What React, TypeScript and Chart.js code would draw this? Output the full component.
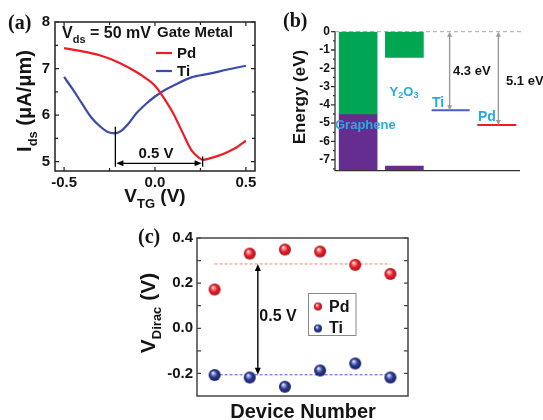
import React, { useEffect, useRef } from 'react';
import { Chart, registerables } from 'chart.js';

Chart.register(...registerables);

const W = 543;
const H = 420;
const SANS = 'Arial, "Liberation Sans", Helvetica, sans-serif';
const SERIF = '"Times New Roman", "Liberation Serif", Times, serif';
const INK = '#141414';

// ---------- Panel (a): Ids vs VTG ----------
const vtgPd = [-0.5, -0.4, -0.3, -0.2, -0.1, -0.05, 0, 0.05, 0.1, 0.15, 0.2, 0.24, 0.262, 0.3, 0.35, 0.4, 0.45, 0.5];
const idsPd = [7.44, 7.37, 7.28, 7.13, 6.92, 6.79, 6.63, 6.36, 6.04, 5.64, 5.25, 5.09, 5.04, 5.07, 5.13, 5.21, 5.31, 5.45];
const vtgTi = [-0.5, -0.45, -0.4, -0.35, -0.3, -0.26, -0.218, -0.19, -0.15, -0.1, -0.05, 0, 0.05, 0.1, 0.2, 0.3, 0.4, 0.5];
const idsTi = [6.82, 6.54, 6.24, 5.95, 5.75, 5.64, 5.61, 5.65, 5.8, 6.05, 6.24, 6.4, 6.53, 6.63, 6.81, 6.89, 6.98, 7.06];
const aXTicks = [-0.5, 0, 0.5];
const aXMinor = [-0.25, 0.25];
const aYTicks = [5, 6, 7, 8];
const aYMinor = [5.5, 6.5, 7.5];
const aDirac = [-0.218, 0.262]; // Ti, Pd Dirac points
const aDiracTop = [5.75, 5.11];
const aGuideBottom = 4.89;
const aArrowY = 4.965;

// ---------- Panel (b): band diagram ----------
const bLabels = ['Graphene', 'Y2O3', 'Ti', 'Pd'];
const bConduction: (number[] | null)[] = [[-4.5, 0], [-1.4, 0], null, null];
const bValence: (number[] | null)[] = [[-7.6, -4.5], [-7.6, -7.35], null, null];
const bLevels: (number | null)[] = [null, null, -4.3, -5.1];
const bYTicks = [0, -1, -2, -3, -4, -5, -6, -7];
const bYMinor = [-0.5, -1.5, -2.5, -3.5, -4.5, -5.5, -6.5, -7.5];

// ---------- Panel (c): Dirac voltage per device ----------
const devices = [1, 2, 3, 4, 5, 6];
const vDiracPd = [0.172, 0.331, 0.349, 0.34, 0.281, 0.241];
const vDiracTi = [-0.207, -0.218, -0.259, -0.187, -0.156, -0.218];
const avgPd = 0.285;
const avgTi = -0.206;
const cYTicks = [-0.2, 0, 0.2, 0.4];
const cYMinor = [-0.1, 0.1, 0.3];
const cArrowX = 2.23;

// colours
const RED = '#ee1c25';
const BLUE = '#3b4ba8';
const GREEN = '#00a651';
const PURPLE = '#662d91';
const CYAN = '#27aae1';

type Run = { t: string; px: number; dy?: number };
function richText(
  ctx: CanvasRenderingContext2D,
  runs: Run[],
  x: number,
  y: number,
  o: { rotate?: boolean; align?: 'left' | 'center'; color?: string; family?: string } = {}
) {
  ctx.save();
  ctx.translate(x, y);
  if (o.rotate) ctx.rotate(-Math.PI / 2);
  ctx.textAlign = 'left';
  ctx.textBaseline = 'alphabetic';
  ctx.fillStyle = o.color || INK;
  const fam = o.family || SANS;
  const widths = runs.map((r) => {
    ctx.font = `bold ${r.px}px ${fam}`;
    return ctx.measureText(r.t).width;
  });
  const total = widths.reduce((a, b) => a + b, 0);
  let cx = o.align === 'left' ? 0 : -total / 2;
  runs.forEach((r, i) => {
    ctx.font = `bold ${r.px}px ${fam}`;
    ctx.fillText(r.t, cx, r.dy || 0);
    cx += widths[i];
  });
  ctx.restore();
}

function doubleArrow(
  ctx: CanvasRenderingContext2D,
  x1: number, y1: number, x2: number, y2: number,
  color: string, lw: number, hl: number, hw: number
) {
  const ang = Math.atan2(y2 - y1, x2 - x1);
  const ux = Math.cos(ang);
  const uy = Math.sin(ang);
  ctx.save();
  ctx.strokeStyle = color;
  ctx.fillStyle = color;
  ctx.lineWidth = lw;
  ctx.beginPath();
  ctx.moveTo(x1 + ux * hl * 0.7, y1 + uy * hl * 0.7);
  ctx.lineTo(x2 - ux * hl * 0.7, y2 - uy * hl * 0.7);
  ctx.stroke();
  const head = (px: number, py: number, dx: number, dy: number) => {
    ctx.beginPath();
    ctx.moveTo(px, py);
    ctx.lineTo(px - dx * hl - dy * hw, py - dy * hl + dx * hw);
    ctx.lineTo(px - dx * hl + dy * hw, py - dy * hl - dx * hw);
    ctx.closePath();
    ctx.fill();
  };
  head(x2, y2, ux, uy);
  head(x1, y1, -ux, -uy);
  ctx.restore();
}

function sphere(r: number, hi: string, base: string, dark: string) {
  const c = document.createElement('canvas');
  const s = Math.ceil(2 * r + 2);
  c.width = s;
  c.height = s;
  const g = c.getContext('2d')!;
  const cx = s / 2;
  const cy = s / 2;
  const grad = g.createRadialGradient(cx - r * 0.3, cy - r * 0.38, r * 0.05, cx, cy, r);
  grad.addColorStop(0, '#ffffff');
  grad.addColorStop(0.18, hi);
  grad.addColorStop(0.55, base);
  grad.addColorStop(1, dark);
  g.fillStyle = grad;
  g.beginPath();
  g.arc(cx, cy, r, 0, Math.PI * 2);
  g.fill();
  return c;
}

type Area = { left: number; top: number; right: number; bottom: number };
const pad = (a: Area, yW: number, xH: number) => ({
  left: a.left - yW,
  top: a.top,
  right: W - a.right,
  bottom: H - a.bottom - xH,
});

const tickFont = (size: number) => ({ family: SANS, weight: 'bold' as const, size });

// ---------------- Chart (a) ----------------
function makeA(canvas: HTMLCanvasElement) {
  const area: Area = { left: 55, top: 22, right: 255, bottom: 171 };
  const plugin = {
    id: 'panelA',
    afterDraw(chart: any) {
      const { ctx, chartArea: a, scales } = chart;
      const x = scales.x;
      const y = scales.y;
      ctx.save();
      ctx.strokeStyle = '#222';
      ctx.lineWidth = 1.5;
      ctx.strokeRect(a.left, a.top, a.right - a.left, a.bottom - a.top);
      ctx.lineWidth = 1.2;
      ctx.beginPath();
      const yt = (v: number, len: number) => {
        const py = y.getPixelForValue(v);
        ctx.moveTo(a.left, py); ctx.lineTo(a.left + len, py);
        ctx.moveTo(a.right, py); ctx.lineTo(a.right - len, py);
      };
      const xt = (v: number, len: number) => {
        const px = x.getPixelForValue(v);
        ctx.moveTo(px, a.bottom); ctx.lineTo(px, a.bottom - len);
        ctx.moveTo(px, a.top); ctx.lineTo(px, a.top + len);
      };
      aYTicks.forEach((v) => yt(v, 4));
      aYMinor.forEach((v) => yt(v, 3));
      aXTicks.forEach((v) => xt(v, 4));
      aXMinor.forEach((v) => xt(v, 3));
      ctx.stroke();

      // Dirac guides and arrow
      ctx.strokeStyle = '#000';
      ctx.lineWidth = 1.3;
      ctx.beginPath();
      aDirac.forEach((v, i) => {
        const px = x.getPixelForValue(v);
        ctx.moveTo(px, y.getPixelForValue(aDiracTop[i]));
        ctx.lineTo(px, y.getPixelForValue(aGuideBottom));
      });
      ctx.stroke();
      const ay = y.getPixelForValue(aArrowY);
      doubleArrow(ctx, x.getPixelForValue(aDirac[0]) + 1, ay, x.getPixelForValue(aDirac[1]) - 1, ay, '#000', 1.3, 7, 3);
      ctx.restore();

      richText(ctx, [{ t: '0.5 V', px: 15 }], 156, 158);
      richText(ctx, [{ t: '(a)', px: 20 }], 8, 29, { align: 'left', family: SERIF });
      richText(ctx, [{ t: 'V', px: 16 }, { t: 'ds', px: 11, dy: 5 }, { t: ' = 50 mV', px: 16 }], 62, 38, { align: 'left' });
      richText(ctx, [{ t: 'Gate Metal', px: 15 }], 157, 37, { align: 'left' });
      ctx.save();
      ctx.lineWidth = 2.2;
      ctx.strokeStyle = RED;
      ctx.beginPath(); ctx.moveTo(156, 53); ctx.lineTo(172, 53); ctx.stroke();
      ctx.strokeStyle = BLUE;
      ctx.beginPath(); ctx.moveTo(156, 71); ctx.lineTo(172, 71); ctx.stroke();
      ctx.restore();
      richText(ctx, [{ t: 'Pd', px: 15 }], 177, 58, { align: 'left' });
      richText(ctx, [{ t: 'Ti', px: 15 }], 177, 76, { align: 'left' });
      richText(ctx, [{ t: 'I', px: 20 }, { t: 'ds', px: 13, dy: 6 }, { t: ' (\u03bcA/\u03bcm)', px: 20 }], 31, 101, { rotate: true });
      richText(ctx, [{ t: 'V', px: 19 }, { t: 'TG', px: 13, dy: 6 }, { t: ' (V)', px: 19 }], 155, 202);
    },
  };
  return new Chart(canvas, {
    type: 'line',
    data: {
      datasets: [
        {
          label: 'Pd',
          data: vtgPd.map((v, i) => ({ x: v, y: idsPd[i] })),
          borderColor: RED,
          borderWidth: 2.2,
          pointRadius: 0,
          cubicInterpolationMode: 'monotone',
        },
        {
          label: 'Ti',
          data: vtgTi.map((v, i) => ({ x: v, y: idsTi[i] })),
          borderColor: BLUE,
          borderWidth: 2.2,
          pointRadius: 0,
          cubicInterpolationMode: 'monotone',
        },
      ],
    },
    options: {
      animation: false,
      responsive: false,
      devicePixelRatio: 1,
      events: [],
      layout: { padding: pad(area, 40, 25) },
      plugins: { legend: { display: false }, tooltip: { enabled: false } },
      scales: {
        x: {
          type: 'linear',
          min: -0.55,
          max: 0.55,
          grid: { display: false, drawTicks: false },
          border: { display: false },
          afterBuildTicks: (s: any) => { s.ticks = aXTicks.map((value) => ({ value })); },
          afterFit: (s: any) => { s.height = 25; },
          ticks: { font: tickFont(15), color: INK, padding: 3, autoSkip: false, maxRotation: 0, callback: (v: any) => Number(v).toFixed(1) },
        },
        y: {
          type: 'linear',
          min: 4.8,
          max: 8,
          grid: { display: false, drawTicks: false },
          border: { display: false },
          afterBuildTicks: (s: any) => { s.ticks = aYTicks.map((value) => ({ value })); },
          afterFit: (s: any) => { s.width = 40; },
          ticks: { font: tickFont(15), color: INK, padding: 5, autoSkip: false, callback: (v: any) => String(v) },
        },
      },
    },
    plugins: [plugin],
  } as any);
}

// ---------------- Chart (b) ----------------
function makeB(canvas: HTMLCanvasElement) {
  const area: Area = { left: 335, top: 31.7, right: 520, bottom: 170.7 };
  const plugin = {
    id: 'panelB',
    beforeDatasetsDraw(chart: any) {
      const { ctx, chartArea: a, scales } = chart;
      const py = scales.y.getPixelForValue(0);
      ctx.save();
      ctx.strokeStyle = '#a8a8a8';
      ctx.lineWidth = 1;
      ctx.setLineDash([4, 3]);
      ctx.beginPath(); ctx.moveTo(a.left, py); ctx.lineTo(a.right + 2, py); ctx.stroke();
      ctx.restore();
    },
    afterDraw(chart: any) {
      const { ctx, chartArea: a, scales } = chart;
      const x = scales.x;
      const y = scales.y;
      ctx.save();
      ctx.strokeStyle = '#333';
      ctx.lineWidth = 1.3;
      ctx.beginPath();
      ctx.moveTo(a.left, a.top); ctx.lineTo(a.left, a.bottom); ctx.lineTo(a.right, a.bottom);
      bYTicks.forEach((v) => { const p = y.getPixelForValue(v); ctx.moveTo(a.left, p); ctx.lineTo(a.left - 4, p); });
      bYMinor.forEach((v) => { const p = y.getPixelForValue(v); ctx.moveTo(a.left, p); ctx.lineTo(a.left - 2, p); });
      ctx.stroke();
      ctx.restore();

      [2, 3].forEach((i) => {
        const px = x.getPixelForValue(i) + (i === 2 ? -1 : 1.5);
        doubleArrow(ctx, px, y.getPixelForValue(0), px, y.getPixelForValue(bLevels[i] as number), '#9a9a9a', 1.4, 5, 2.5);
      });

      richText(ctx, [{ t: '(b)', px: 20 }], 283, 27, { align: 'left', family: SERIF });
      richText(ctx, [{ t: 'Energy (eV)', px: 17 }], 305, 97, { rotate: true });
      richText(ctx, [{ t: `${-(bLevels[2] as number)} eV`, px: 13 }], 453, 75, { align: 'left' });
      richText(ctx, [{ t: `${-(bLevels[3] as number)} eV`, px: 13 }], 506, 85, { align: 'left' });
      richText(ctx, [{ t: 'Graphene', px: 13 }], 335, 129, { align: 'left', color: CYAN });
      richText(ctx, [{ t: 'Y', px: 13 }, { t: '2', px: 9, dy: 2 }, { t: 'O', px: 13 }, { t: '3', px: 9, dy: 2 }], 404, 96, { color: CYAN });
      richText(ctx, [{ t: bLabels[2], px: 14 }], 432, 107, { align: 'left', color: CYAN });
      richText(ctx, [{ t: bLabels[3], px: 14 }], 478, 121, { align: 'left', color: CYAN });
    },
  };
  return new Chart(canvas, {
    type: 'bar',
    data: {
      labels: bLabels,
      datasets: [
        { type: 'bar', label: 'Conduction', data: bConduction, backgroundColor: GREEN, barThickness: 38, grouped: false, borderWidth: 0 },
        { type: 'bar', label: 'Valence', data: bValence, backgroundColor: PURPLE, barThickness: 38, grouped: false, borderWidth: 0 },
        {
          type: 'line', label: 'Ti', data: bLevels.map((v, i) => (i === 2 ? v : null)), showLine: false,
          pointStyle: 'line', pointRadius: 19, pointBorderWidth: 2, pointBorderColor: '#4b5cc4', borderColor: '#4b5cc4',
        },
        {
          type: 'line', label: 'Pd', data: bLevels.map((v, i) => (i === 3 ? v : null)), showLine: false,
          pointStyle: 'line', pointRadius: 19.5, pointBorderWidth: 2, pointBorderColor: RED, borderColor: RED,
        },
      ],
    },
    options: {
      animation: false,
      responsive: false,
      devicePixelRatio: 1,
      events: [],
      layout: { padding: pad(area, 30, 0) },
      plugins: { legend: { display: false }, tooltip: { enabled: false } },
      scales: {
        x: { display: false, offset: true },
        y: {
          type: 'linear',
          min: -7.6,
          max: 0,
          grid: { display: false, drawTicks: false },
          border: { display: false },
          afterBuildTicks: (s: any) => { s.ticks = bYTicks.map((value) => ({ value })); },
          afterFit: (s: any) => { s.width = 30; },
          ticks: { font: tickFont(12), color: INK, padding: 5, autoSkip: false, callback: (v: any) => String(v) },
        },
      },
    },
    plugins: [plugin],
  } as any);
}

// ---------------- Chart (c) ----------------
function makeC(canvas: HTMLCanvasElement) {
  const area: Area = { left: 197, top: 238, right: 408, bottom: 396 };
  const redBall = sphere(6, '#ff9a9a', '#e8202a', '#a5121a');
  const blueBall = sphere(6, '#9aa6e6', '#2b3990', '#18205e');
  const redSmall = sphere(4, '#ff9a9a', '#e8202a', '#a5121a');
  const blueSmall = sphere(4, '#9aa6e6', '#2b3990', '#18205e');
  const plugin = {
    id: 'panelC',
    afterDraw(chart: any) {
      const { ctx, chartArea: a, scales } = chart;
      const x = scales.x;
      const y = scales.y;
      ctx.save();
      ctx.strokeStyle = '#444';
      ctx.lineWidth = 1.5;
      ctx.strokeRect(a.left, a.top, a.right - a.left, a.bottom - a.top);
      ctx.lineWidth = 1.2;
      ctx.beginPath();
      [...cYTicks, ...cYMinor].forEach((v) => {
        const p = y.getPixelForValue(v);
        ctx.moveTo(a.left, p); ctx.lineTo(a.left + 4, p);
        ctx.moveTo(a.right, p); ctx.lineTo(a.right - 4, p);
      });
      ctx.stroke();
      // legend box
      ctx.strokeStyle = '#888';
      ctx.lineWidth = 1;
      ctx.strokeRect(308.5, 293.5, 47.5, 42);
      ctx.drawImage(redSmall, 318 - redSmall.width / 2, 306.5 - redSmall.height / 2);
      ctx.drawImage(blueSmall, 318 - blueSmall.width / 2, 328.5 - blueSmall.height / 2);
      ctx.restore();

      const ax = x.getPixelForValue(cArrowX);
      doubleArrow(ctx, ax, y.getPixelForValue(avgPd), ax, y.getPixelForValue(avgTi), '#000', 1.4, 7, 3);

      richText(ctx, [{ t: 'Pd', px: 16 }], 329, 312, { align: 'left' });
      richText(ctx, [{ t: 'Ti', px: 16 }], 329, 333, { align: 'left' });
      richText(ctx, [{ t: '0.5 V', px: 16 }], 278, 321);
      richText(ctx, [{ t: '(c)', px: 20 }], 138, 243, { align: 'left', family: SERIF });
      richText(ctx, [{ t: 'V', px: 21 }, { t: 'Dirac', px: 13, dy: 6 }, { t: ' (V)', px: 21 }], 155, 313, { rotate: true });
      richText(ctx, [{ t: 'Device Number', px: 20 }], 303, 418);
    },
  };
  return new Chart(canvas, {
    type: 'scatter',
    data: {
      datasets: [
        { label: 'Pd', data: devices.map((d, i) => ({ x: d, y: vDiracPd[i] })), pointStyle: redBall, pointRadius: 6 },
        { label: 'Ti', data: devices.map((d, i) => ({ x: d, y: vDiracTi[i] })), pointStyle: blueBall, pointRadius: 6 },
        {
          type: 'line', label: 'Pd mean', data: [{ x: devices[0], y: avgPd }, { x: devices[devices.length - 1], y: avgPd }],
          borderColor: '#f4826e', borderWidth: 1, borderDash: [3, 2], pointRadius: 0, showLine: true,
        },
        {
          type: 'line', label: 'Ti mean', data: [{ x: devices[0], y: avgTi }, { x: devices[devices.length - 1], y: avgTi }],
          borderColor: '#4a5ad0', borderWidth: 1, borderDash: [3, 2], pointRadius: 0, showLine: true,
        },
      ],
    },
    options: {
      animation: false,
      responsive: false,
      devicePixelRatio: 1,
      events: [],
      layout: { padding: pad(area, 30, 0) },
      plugins: { legend: { display: false }, tooltip: { enabled: false } },
      scales: {
        x: { type: 'linear', display: false, min: 0.5, max: 6.5 },
        y: {
          type: 'linear',
          min: -0.3,
          max: 0.4,
          grid: { display: false, drawTicks: false },
          border: { display: false },
          afterBuildTicks: (s: any) => { s.ticks = cYTicks.map((value) => ({ value })); },
          afterFit: (s: any) => { s.width = 30; },
          ticks: { font: tickFont(15), color: INK, padding: 4, autoSkip: false, callback: (v: any) => Number(v).toFixed(1) },
        },
      },
    },
    plugins: [plugin],
  } as any);
}

export default function App() {
  const ra = useRef<HTMLCanvasElement>(null);
  const rb = useRef<HTMLCanvasElement>(null);
  const rc = useRef<HTMLCanvasElement>(null);
  useEffect(() => {
    Chart.defaults.font.family = SANS;
    const charts = [makeA(ra.current!), makeB(rb.current!), makeC(rc.current!)];
    return () => charts.forEach((c) => c.destroy());
  }, []);
  const st: React.CSSProperties = { position: 'absolute', left: 0, top: 0, width: W, height: H };
  return (
    <div style={{ position: 'fixed', left: 0, top: 0, width: W, height: H, background: '#fff', overflow: 'hidden' }}>
      <canvas ref={ra} width={W} height={H} style={st} />
      <canvas ref={rb} width={W} height={H} style={st} />
      <canvas ref={rc} width={W} height={H} style={st} />
    </div>
  );
}
